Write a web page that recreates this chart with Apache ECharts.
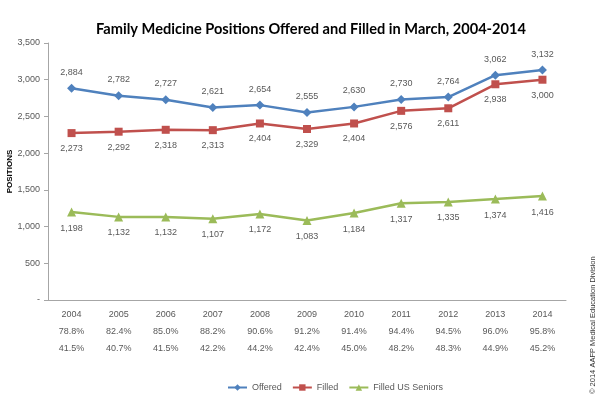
<!DOCTYPE html>
<html>
<head>
<meta charset="utf-8">
<script src="https://cdn.jsdelivr.net/npm/echarts@6/dist/echarts.min.js"></script>
<style>
  html, body { margin: 0; padding: 0; background: #fff; }
  #chart { width: 600px; height: 397px; }
</style>
</head>
<body>
<div id="chart"></div>
<script>
// data
const years = ['2004', '2005', '2006', '2007', '2008', '2009', '2010', '2011', '2012', '2013', '2014'];
const offered = [2884, 2782, 2727, 2621, 2654, 2555, 2630, 2730, 2764, 3062, 3132];
const filled = [2273, 2292, 2318, 2313, 2404, 2329, 2404, 2576, 2611, 2938, 3000];
const seniors = [1198, 1132, 1132, 1107, 1172, 1083, 1184, 1317, 1335, 1374, 1416];
// table rows under the axis
const filledPct = ['78.8%', '82.4%', '85.0%', '88.2%', '90.6%', '91.2%', '91.4%', '94.4%', '94.5%', '96.0%', '95.8%'];
const seniorPct = ['41.5%', '40.7%', '41.5%', '42.2%', '44.2%', '42.4%', '45.0%', '48.2%', '48.3%', '44.9%', '45.2%'];

const fmt = (v) => v === 0 ? '-' : v.toLocaleString('en-US');
const textGray = '#595959';

const chart = echarts.init(document.getElementById('chart'));

function lineSeries(name, data, color, symbol, size, labelPos) {
  return {
    name: name,
    type: 'line',
    data: data,
    symbol: symbol,
    symbolSize: size,
    lineStyle: { color: color, width: 2.5 },
    itemStyle: { color: color },
    label: {
      show: true,
      position: labelPos,
      distance: 7,
      color: textGray,
      fontSize: 9,
      fontFamily: 'Liberation Sans',
      formatter: (p) => fmt(p.value)
    }
  };
}

chart.setOption({
  animation: false,
  textStyle: { fontFamily: 'Liberation Sans' },
  title: {
    text: 'Family Medicine Positions Offered and Filled in March, 2004-2014',
    left: 306,
    textAlign: 'center',
    top: 17,
    textStyle: { fontFamily: 'Lato', fontWeight: 'bold', fontSize: 14.6, color: '#000' }
  },
  grid: { left: 48, right: 34, top: 43, bottom: 97, outerBoundsMode: 'none' },
  legend: {
    bottom: 0,
    left: 222,
    itemWidth: 19,
    itemHeight: 8,
    itemGap: 10,
    textStyle: { fontSize: 9, color: textGray },
    data: ['Offered', 'Filled', 'Filled US Seniors']
  },
  xAxis: {
    type: 'category',
    data: years,
    axisLine: { lineStyle: { color: '#a6a6a6' } },
    axisTick: { length: 53, lineStyle: { color: '#bfbfbf' } },
    axisLabel: {
      margin: 6,
      color: textGray,
      fontSize: 9,
      lineHeight: 17,
      formatter: (v, i) => v + '\n' + filledPct[i] + '\n' + seniorPct[i]
    }
  },
  yAxis: {
    type: 'value',
    min: 0,
    max: 3500,
    interval: 500,
    name: 'POSITIONS',
    nameLocation: 'middle',
    nameRotate: 90,
    nameGap: 34,
    nameMoveOverlap: false,
    nameTextStyle: { fontSize: 8, fontWeight: 'bold', color: '#000' },
    axisLine: { show: true, lineStyle: { color: '#a6a6a6' } },
    axisTick: { show: true, length: 4, lineStyle: { color: '#a6a6a6' } },
    splitLine: { show: false },
    axisLabel: { color: textGray, fontSize: 9, margin: 8, formatter: fmt }
  },
  series: [
    lineSeries('Offered', offered, '#4f81bd', 'diamond', 9, 'top'),
    lineSeries('Filled', filled, '#c0504d', 'rect', 8, 'bottom'),
    lineSeries('Filled US Seniors', seniors, '#9bbb59', 'triangle', 9, 'bottom')
  ],
  graphic: [{
    type: 'text',
    x: 597,
    y: 394,
    rotation: Math.PI / 2,
    style: {
      text: '\u00a9 2014 AAFP Medical Education Division',
      fontSize: 7.5,
      fill: '#333',
      textAlign: 'left',
      textVerticalAlign: 'bottom'
    }
  }]
});
</script>
</body>
</html>
